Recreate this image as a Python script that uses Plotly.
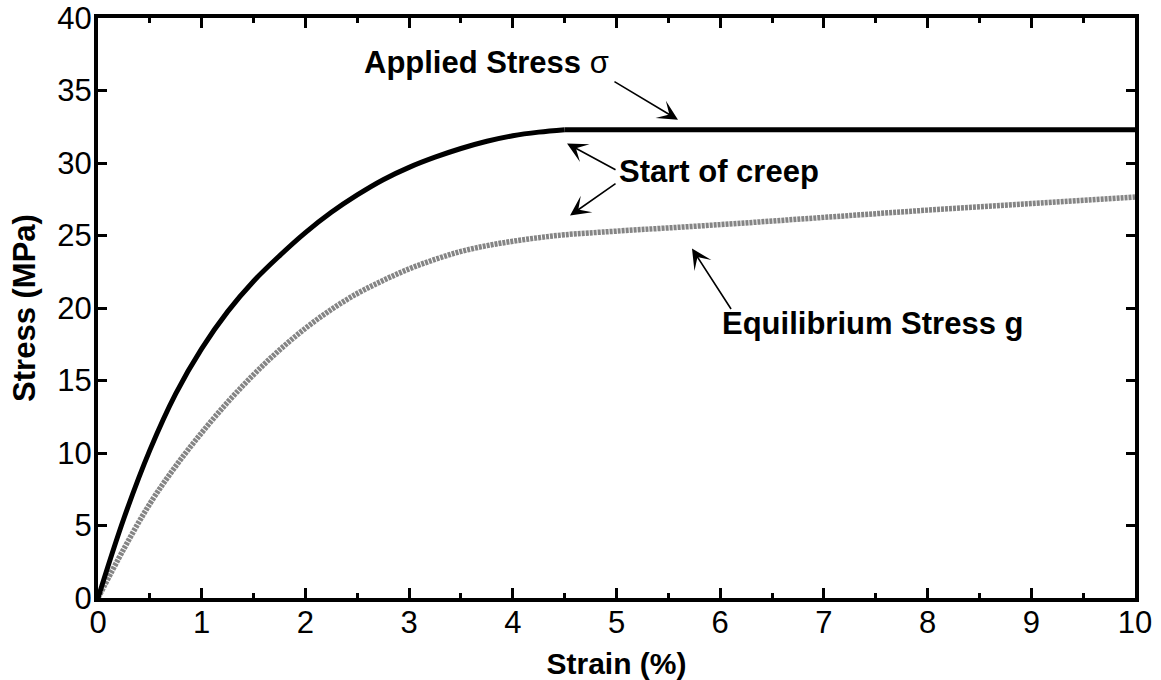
import plotly.graph_objects as go

# Applied stress: loading curve up to the start of creep, then held constant
strain_load = [0, 0.25, 0.5, 0.75, 1.0, 1.25, 1.5, 1.75, 2.0, 2.25, 2.5, 2.75,
               3.0, 3.25, 3.5, 3.75, 4.0, 4.25, 4.5]
stress_load = [0, 5.5, 10.2, 14.1, 17.2, 19.75, 21.85, 23.6, 25.2, 26.6, 27.8, 28.85,
               29.7, 30.4, 31.0, 31.5, 31.88, 32.13, 32.3]
strain_hold = [4.5, 10]
stress_hold = [32.3, 32.3]

# Equilibrium stress g
strain_eq = [0, 0.25, 0.5, 0.75, 1.0, 1.25, 1.5, 1.75, 2.0, 2.25, 2.5, 2.75, 3.0,
             3.25, 3.5, 3.75, 4.0, 4.25, 4.5, 5, 6, 7, 8, 9, 10]
stress_eq = [0, 3.4, 6.5, 9.1, 11.4, 13.5, 15.4, 17.1, 18.6, 19.9, 21.0, 21.9, 22.7,
             23.35, 23.9, 24.3, 24.6, 24.85, 25.05, 25.3, 25.75, 26.25, 26.75, 27.2, 27.65]

x_ticks = [0, 1, 2, 3, 4, 5, 6, 7, 8, 9, 10]
y_ticks = [0, 5, 10, 15, 20, 25, 30, 35, 40]

FONT = "Liberation Sans, Arial, sans-serif"

fig = go.Figure()
fig.add_trace(go.Scatter(
    x=strain_eq, y=stress_eq, mode="lines",
    line=dict(color="#858585", width=5.5, dash="3px,1px", shape="spline", smoothing=1.0),
    showlegend=False,
))
fig.add_trace(go.Scatter(
    x=strain_load, y=stress_load, mode="lines",
    line=dict(color="black", width=5, shape="spline", smoothing=1.0),
    showlegend=False,
))
fig.add_trace(go.Scatter(
    x=strain_hold, y=stress_hold, mode="lines",
    line=dict(color="black", width=5),
    showlegend=False,
))

# Labels
labels = [
    dict(x=2.55, y=36.9, text="<b>Applied Stress</b> σ"),
    dict(x=5.0, y=29.4, text="<b>Start of creep</b>"),
    dict(x=6.0, y=18.9, text="<b>Equilibrium Stress g</b>"),
]
for lab in labels:
    fig.add_annotation(x=lab["x"], y=lab["y"], text=lab["text"], xanchor="left",
                       yanchor="middle", showarrow=False,
                       font=dict(family=FONT, size=31, color="black"))

# Arrows: (head x, head y, tail x, tail y)
arrows = [
    (5.593, 32.99, 4.966, 35.67),
    (4.523, 31.34, 5.005, 29.48),
    (4.552, 26.38, 5.005, 28.65),
    (5.728, 24.10, 6.114, 19.83),
]
for hx, hy, tx, ty in arrows:
    fig.add_annotation(x=hx, y=hy, ax=tx, ay=ty, xref="x", yref="y",
                       axref="x", ayref="y", text="", showarrow=True,
                       arrowhead=3, arrowsize=2.1, arrowwidth=1.6,
                       arrowcolor="black", standoff=0, startstandoff=0)

fig.update_xaxes(
    range=[0, 10], tickvals=x_ticks, ticks="inside", ticklen=10, tickwidth=3,
    tickcolor="black", showline=True, linewidth=4, linecolor="black",
    mirror="allticks", showgrid=False, zeroline=False, automargin=False,
    minor=dict(dtick=0.5, ticks="inside", ticklen=5, tickwidth=3, tickcolor="black",
               showgrid=False),
    tickfont=dict(family=FONT, size=31, color="black"),
    ticklabelstandoff=-6,
    title=dict(text="<b>Strain (%)</b>", font=dict(family=FONT, size=30, color="black"),
               standoff=16),
)
fig.update_yaxes(
    range=[0, 40], tickvals=y_ticks, ticks="inside", ticklen=9, tickwidth=3,
    tickcolor="black", showline=True, linewidth=4, linecolor="black",
    mirror="allticks", showgrid=False, zeroline=False, automargin=False,
    tickfont=dict(family=FONT, size=31, color="black"),
    ticklabelstandoff=-4,
    title=dict(text="<b>Stress (MPa)</b>", font=dict(family=FONT, size=31, color="black"),
               standoff=13),
)

fig.update_layout(
    width=1161, height=680,
    margin=dict(l=98, r=26, t=18, b=82),
    plot_bgcolor="white", paper_bgcolor="white",
    showlegend=False,
)

fig.write_html("out.html")
